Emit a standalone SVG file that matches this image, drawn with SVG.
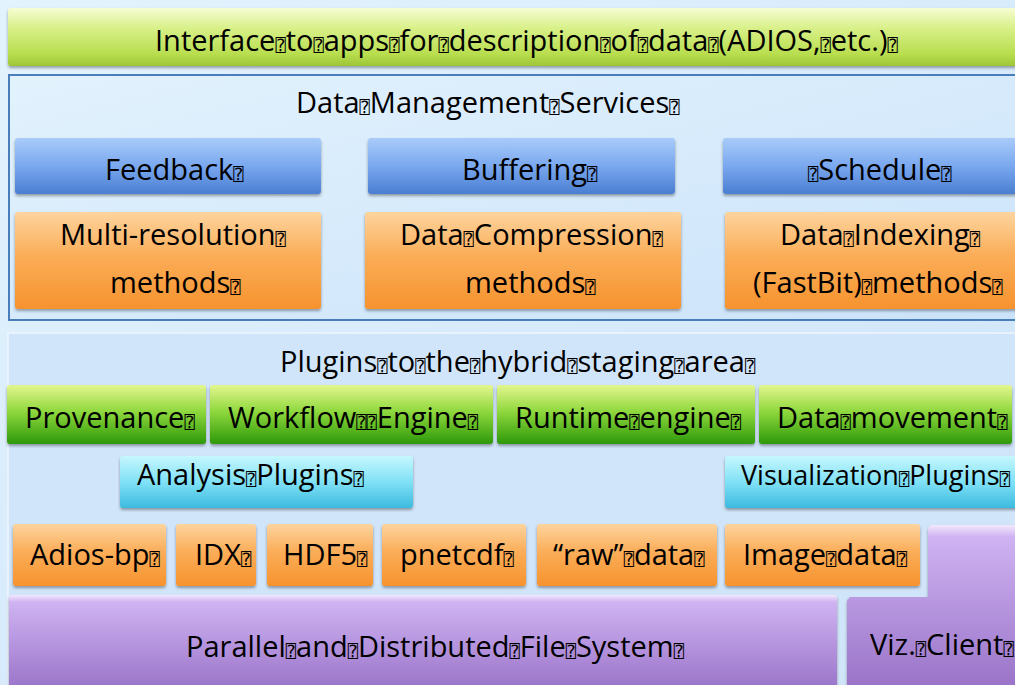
<svg xmlns="http://www.w3.org/2000/svg" width="1015" height="685" viewBox="0 0 1015 685">
<defs>
<linearGradient id="bg" x1="0" y1="0" x2="1" y2="1"><stop offset="0" stop-color="#e3f3fd"/><stop offset="1" stop-color="#cde3fa"/></linearGradient>
<linearGradient id="gDms" x1="0" y1="0" x2="1" y2="1"><stop offset="0" stop-color="#e2f2fd"/><stop offset="1" stop-color="#cbe3fa"/></linearGradient>
<linearGradient id="gTop" x1="0" y1="0" x2="0" y2="1"><stop offset="0" stop-color="#f6fcd4"/><stop offset="0.35" stop-color="#d8f088"/><stop offset="0.8" stop-color="#b8dd4e"/><stop offset="1" stop-color="#9cc537"/></linearGradient>
<linearGradient id="gBlue" x1="0" y1="0" x2="0" y2="1"><stop offset="0" stop-color="#a9cbf9"/><stop offset="0.5" stop-color="#7aa8ef"/><stop offset="1" stop-color="#4b7ed1"/></linearGradient>
<linearGradient id="gOrange" x1="0" y1="0" x2="0" y2="1"><stop offset="0" stop-color="#fdd49e"/><stop offset="0.45" stop-color="#fbad58"/><stop offset="1" stop-color="#f6932e"/></linearGradient>
<linearGradient id="gGreen" x1="0" y1="0" x2="0" y2="1"><stop offset="0" stop-color="#e4f68e"/><stop offset="0.45" stop-color="#8fd83e"/><stop offset="1" stop-color="#2d9909"/></linearGradient>
<linearGradient id="gCyan" x1="0" y1="0" x2="0" y2="1"><stop offset="0" stop-color="#c6f7fd"/><stop offset="0.5" stop-color="#80e1f6"/><stop offset="1" stop-color="#3cbadf"/></linearGradient>
<linearGradient id="gPurple" x1="0" y1="0" x2="0" y2="1"><stop offset="0" stop-color="#f2e9fd"/><stop offset="0.07" stop-color="#cfb3f2"/><stop offset="1" stop-color="#9770c6"/></linearGradient>
<filter id="sh" x="-5%" y="-15%" width="110%" height="140%"><feDropShadow dx="0" dy="2" stdDeviation="1.5" flood-color="#000" flood-opacity="0.35"/></filter>
</defs>
<style>
.t{font-family:"Open Sans","Liberation Sans",sans-serif;font-size:29px;fill:#000}
.q{font-family:"DejaVu Sans Mono","DejaVu Sans",monospace;font-size:17px}
.box{filter:url(#sh)}
.blue{fill:url(#gBlue)}
.orange{fill:url(#gOrange)}
.green{fill:url(#gGreen)}
.cyan{fill:url(#gCyan)}
.purple{fill:url(#gPurple)}
</style>
<rect x="0" y="0" width="1015" height="685" fill="url(#bg)"/>
<g id="plugins-panel">
<rect x="8" y="333" width="1015" height="360" fill="#d1e5fa" stroke="#eef6fe" stroke-width="1.5"/>
<text class="t" x="280" y="372">Plugins<tspan class="q">⍰</tspan>to<tspan class="q">⍰</tspan>the<tspan class="q">⍰</tspan>hybrid<tspan class="q">⍰</tspan>staging<tspan class="q">⍰</tspan>area<tspan class="q">⍰</tspan></text>
</g>
<g id="interface-bar">
<rect class="box" x="8" y="8" width="1015" height="58" rx="3" fill="url(#gTop)"/>
<text class="t" x="155" y="51">Interface<tspan class="q">⍰</tspan>to<tspan class="q">⍰</tspan>apps<tspan class="q">⍰</tspan>for<tspan class="q">⍰</tspan>description<tspan class="q">⍰</tspan>of<tspan class="q">⍰</tspan>data<tspan class="q">⍰</tspan>(ADIOS,<tspan class="q">⍰</tspan>etc.)<tspan class="q">⍰</tspan></text>
</g>
<g id="data-management">
<rect x="9" y="75" width="1015" height="245" fill="url(#gDms)" stroke="#4a7ebb" stroke-width="2"/>
<text class="t" x="296" y="113">Data<tspan class="q">⍰</tspan>Management<tspan class="q">⍰</tspan>Services<tspan class="q">⍰</tspan></text>
</g>
<g id="feedback"><rect class="box blue" x="15" y="138" width="306" height="56" rx="3"/><text class="t" x="105" y="180">Feedback<tspan class="q">⍰</tspan></text></g>
<g id="buffering"><rect class="box blue" x="368" y="138" width="307" height="56" rx="3"/><text class="t" x="462" y="180">Buffering<tspan class="q">⍰</tspan></text></g>
<g id="schedule"><rect class="box blue" x="723" y="138" width="300" height="56" rx="3"/><text class="t" x="808" y="180"><tspan class="q">⍰</tspan>Schedule<tspan class="q">⍰</tspan></text></g>
<g id="multi-resolution"><rect class="box orange" x="15" y="212" width="306" height="97" rx="3"/><text class="t" x="60" y="245">Multi-resolution<tspan class="q">⍰</tspan></text><text class="t" x="110" y="293">methods<tspan class="q">⍰</tspan></text></g>
<g id="data-compression"><rect class="box orange" x="365" y="212" width="316" height="97" rx="3"/><text class="t" x="400" y="245">Data<tspan class="q">⍰</tspan>Compression<tspan class="q">⍰</tspan></text><text class="t" x="465" y="293">methods<tspan class="q">⍰</tspan></text></g>
<g id="data-indexing"><rect class="box orange" x="725" y="212" width="300" height="97" rx="3"/><text class="t" x="780" y="245">Data<tspan class="q">⍰</tspan>Indexing<tspan class="q">⍰</tspan></text><text class="t" x="753" y="293">(FastBit)<tspan class="q">⍰</tspan>methods<tspan class="q">⍰</tspan></text></g>
<g id="provenance"><rect class="box green" x="7" y="385" width="199" height="59" rx="3"/><text class="t" x="25" y="428">Provenance<tspan class="q">⍰</tspan></text></g>
<g id="workflow-engine"><rect class="box green" x="210" y="385" width="283" height="59" rx="3"/><text class="t" x="228" y="428">Workflow<tspan class="q">⍰⍰</tspan>Engine<tspan class="q">⍰</tspan></text></g>
<g id="runtime-engine"><rect class="box green" x="497" y="385" width="258" height="59" rx="3"/><text class="t" x="515" y="428">Runtime<tspan class="q">⍰</tspan>engine<tspan class="q">⍰</tspan></text></g>
<g id="data-movement"><rect class="box green" x="759" y="385" width="253" height="59" rx="3"/><text class="t" x="777" y="428">Data<tspan class="q">⍰</tspan>movement<tspan class="q">⍰</tspan></text></g>
<g id="analysis-plugins"><rect class="box cyan" x="120" y="456" width="293" height="52" rx="3"/><text class="t" x="137" y="485">Analysis<tspan class="q">⍰</tspan>Plugins<tspan class="q">⍰</tspan></text></g>
<g id="visualization-plugins"><rect class="box cyan" x="725" y="456" width="300" height="52" rx="3"/><text class="t" x="741" y="485" style="font-size:27px">Visualization<tspan class="q">⍰</tspan>Plugins<tspan class="q">⍰</tspan></text></g>
<g id="adios-bp"><rect class="box orange" x="13" y="524" width="153" height="62" rx="3"/><text class="t" x="30" y="565">Adios-bp<tspan class="q">⍰</tspan></text></g>
<g id="idx"><rect class="box orange" x="176" y="524" width="80" height="62" rx="3"/><text class="t" x="195" y="565">IDX<tspan class="q">⍰</tspan></text></g>
<g id="hdf5"><rect class="box orange" x="267" y="524" width="106" height="62" rx="3"/><text class="t" x="283" y="565">HDF5<tspan class="q">⍰</tspan></text></g>
<g id="pnetcdf"><rect class="box orange" x="382" y="524" width="144" height="62" rx="3"/><text class="t" x="400" y="565">pnetcdf<tspan class="q">⍰</tspan></text></g>
<g id="raw-data"><rect class="box orange" x="537" y="524" width="180" height="62" rx="3"/><text class="t" x="553" y="565">“raw”<tspan class="q">⍰</tspan>data<tspan class="q">⍰</tspan></text></g>
<g id="image-data"><rect class="box orange" x="725" y="524" width="195" height="62" rx="3"/><text class="t" x="743" y="565">Image<tspan class="q">⍰</tspan>data<tspan class="q">⍰</tspan></text></g>
<g id="file-system"><rect class="box purple" x="9" y="595" width="828" height="100" rx="3"/><text class="t" x="186" y="657">Parallel<tspan class="q">⍰</tspan>and<tspan class="q">⍰</tspan>Distributed<tspan class="q">⍰</tspan>File<tspan class="q">⍰</tspan>System<tspan class="q">⍰</tspan></text></g>
<g id="viz-client"><path class="box purple" d="M931,525 H1025 V695 H847 V600 L850,597 H928 V528 Z"/><text class="t" x="870" y="655">Viz.<tspan class="q">⍰</tspan>Client<tspan class="q">⍰</tspan></text></g>
<g id="connectors"/>
</svg>
